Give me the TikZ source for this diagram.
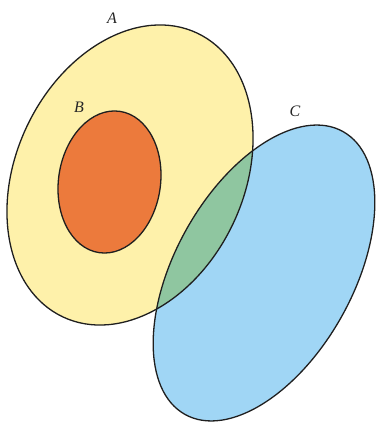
\documentclass[tikz,border=0pt]{standalone}
\usepackage{fontspec}
\setmainfont{Liberation Serif}
\begin{document}
\begin{tikzpicture}[x=1pt,y=1pt,
  outline/.style={draw=black!88, line width=1.3pt},
  lbl/.style={font=\fontsize{16}{16}\selectfont\itshape, text=black!85, inner sep=0pt}]
\useasboundingbox (0,0) rectangle (376,423);
\definecolor{cA}{RGB}{254,241,170}
\definecolor{cB}{RGB}{236,122,60}
\definecolor{cC}{RGB}{160,214,245}
\definecolor{cAC}{RGB}{143,198,160}
\def\ellA{(130,248) ellipse [x radius=114, y radius=157, rotate=-25.4]}
\def\ellB{(109.5,241) ellipse [x radius=51, y radius=71.4, rotate=-8.3]}
\def\ellC{(264,150) ellipse [x radius=89, y radius=162, rotate=-29.2]}
% fills
\fill[cA] \ellA;
\fill[cC] \ellC;
\begin{scope}
  \clip \ellC;
  \fill[cAC] \ellA;
\end{scope}
\filldraw[fill=cB, outline] \ellB;
% outlines
\draw[outline] \ellA;
\draw[outline] \ellC;
% labels
\node[lbl] (la) at (112,405) {A};
\node[lbl] (lb) at (79,316) {B};
\node[lbl] (lc) at (295,312) {C};
\end{tikzpicture}
\end{document}
